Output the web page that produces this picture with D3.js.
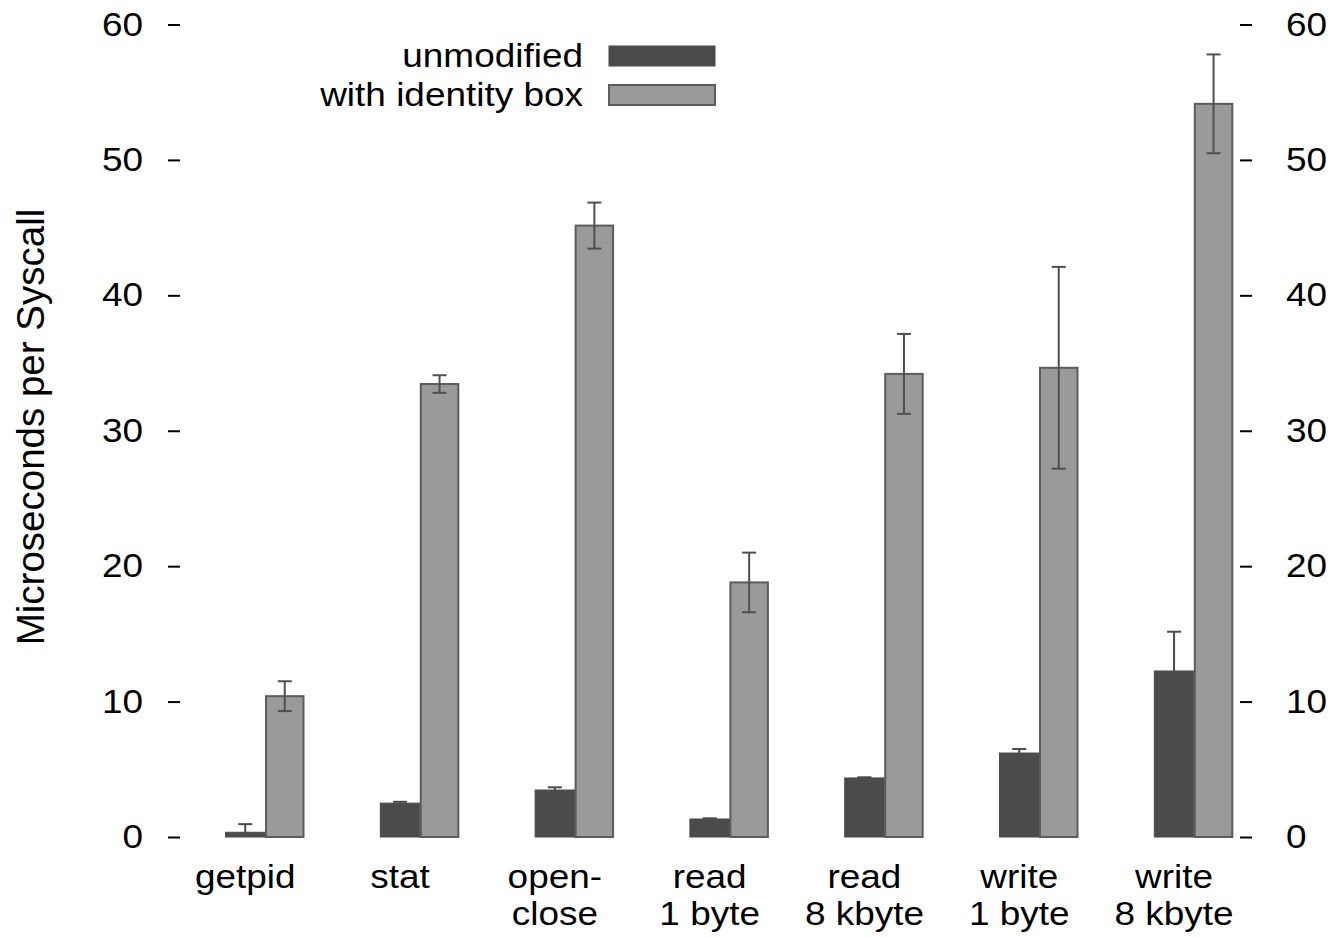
<!DOCTYPE html>
<html>
<head>
<meta charset="utf-8">
<script src="https://cdn.jsdelivr.net/npm/d3@7"></script>
<style>
  html, body { margin: 0; padding: 0; background: #fff; }
  svg { display: block; }
  text { font-family: "Liberation Sans", Arial, Helvetica, sans-serif; fill: #000; }
</style>
</head>
<body>
<svg id="chart" width="1336" height="937"></svg>
<script>
// ---- data ----
const categories = ["getpid", "stat", "open-close", "read 1 byte", "read 8 kbyte", "write 1 byte", "write 8 kbyte"];
const categoryLines = [["getpid"], ["stat"], ["open-", "close"], ["read", "1 byte"], ["read", "8 kbyte"], ["write", "1 byte"], ["write", "8 kbyte"]];
const seriesNames = ["unmodified", "with identity box"];
const unmodified = [0.35, 2.5, 3.47, 1.33, 4.36, 6.2, 12.26];
const unmodifiedErr = [0.6, 0.1, 0.2, 0.05, 0.05, 0.3, 2.9];
const identityBox = [10.4, 33.45, 45.15, 18.8, 34.2, 34.65, 54.14];
const identityBoxErr = [1.1, 0.65, 1.7, 2.2, 2.95, 7.45, 3.65];
const yTicks = [0, 10, 20, 30, 40, 50, 60];
const yLabel = "Microseconds per Syscall";

// ---- layout ----
const svg = d3.select("#chart");
const FS = 33, SX = 1.12;
const colors = { "unmodified": "#4b4b4b", "with identity box": "#9a9a9a" };
const strokes = { "unmodified": "#4b4b4b", "with identity box": "#5c5c5c" };
const errColors = { "unmodified": "#4b4b4b", "with identity box": "#4f4f4f" };

const y = d3.scaleLinear().domain([0, 60]).range([837, 24.5]);
const x0 = d3.scaleBand().domain(categories).range([187.6, 1271.2]).paddingInner(0).paddingOuter(0);
const half = 39.5;
const x1 = d3.scaleBand().domain(seriesNames)
  .range([x0.bandwidth() / 2 - half, x0.bandwidth() / 2 + half]).padding(0);

const rows = categories.map((c, i) => ({
  cat: c,
  vals: [
    { s: seriesNames[0], v: unmodified[i], e: unmodifiedErr[i] },
    { s: seriesNames[1], v: identityBox[i], e: identityBoxErr[i] }
  ]
}));

// ---- bars ----
const groups = svg.append("g").selectAll("g").data(rows).join("g")
  .attr("transform", d => `translate(${x0(d.cat)},0)`);

groups.selectAll("rect").data(d => d.vals).join("rect")
  .attr("x", d => x1(d.s) + (d.s === seriesNames[1] ? 1 : 0))
  .attr("y", d => y(d.v))
  .attr("width", d => x1.bandwidth() - (d.s === seriesNames[1] ? 2 : 0))
  .attr("height", d => y(0) - y(d.v))
  .attr("fill", d => colors[d.s])
  .attr("stroke", d => strokes[d.s])
  .attr("stroke-width", d => d.s === seriesNames[1] ? 2 : 1);

// ---- error bars ----
const eb = groups.selectAll("g.err").data(d => d.vals).join("g").attr("class", "err")
  .attr("stroke", d => errColors[d.s]).attr("stroke-width", 2);
const capW = 7;
eb.append("line")
  .attr("x1", d => x1(d.s) + x1.bandwidth() / 2).attr("x2", d => x1(d.s) + x1.bandwidth() / 2)
  .attr("y1", d => y(Math.max(0, d.v - d.e))).attr("y2", d => y(d.v + d.e));
eb.append("line")
  .attr("x1", d => x1(d.s) + x1.bandwidth() / 2 - capW).attr("x2", d => x1(d.s) + x1.bandwidth() / 2 + capW)
  .attr("y1", d => y(d.v + d.e)).attr("y2", d => y(d.v + d.e));
eb.filter(d => d.v - d.e > 0).append("line")
  .attr("x1", d => x1(d.s) + x1.bandwidth() / 2 - capW).attr("x2", d => x1(d.s) + x1.bandwidth() / 2 + capW)
  .attr("y1", d => y(d.v - d.e)).attr("y2", d => y(d.v - d.e));

// ---- axes ----
const leftAxis = svg.append("g").attr("transform", "translate(180,0)")
  .call(d3.axisLeft(y).tickValues(yTicks).tickSize(12).tickFormat(d3.format("d")));
leftAxis.select(".domain").remove();
leftAxis.selectAll("line").attr("stroke", "#000").attr("stroke-width", 2);
leftAxis.selectAll("text").attr("x", 0)
  .attr("transform", `translate(-37,0) scale(${SX},1)`)
  .style("font-size", FS + "px").style("font-family", "'Liberation Sans', Arial, sans-serif").attr("fill", "#000");

const rightAxis = svg.append("g").attr("transform", "translate(1240,0)")
  .call(d3.axisRight(y).tickValues(yTicks).tickSize(12).tickFormat(d3.format("d")));
rightAxis.select(".domain").remove();
rightAxis.selectAll("line").attr("stroke", "#000").attr("stroke-width", 2);
rightAxis.selectAll("text").attr("x", 0)
  .attr("transform", `translate(46,0) scale(${SX},1)`)
  .style("font-size", FS + "px").style("font-family", "'Liberation Sans', Arial, sans-serif").attr("fill", "#000");

// ---- category labels (centred under the first bar of each group) ----
const catLabels = svg.append("g").selectAll("g").data(categories).join("g")
  .attr("transform", (d) => `translate(${x0(d) + x1(seriesNames[0]) + x1.bandwidth() / 2},0)`);
catLabels.each(function (d, i) {
  const g = d3.select(this);
  categoryLines[i].forEach((line, j) => {
    g.append("text")
      .attr("transform", `translate(0,${888 + j * 37}) scale(${SX},1)`)
      .attr("text-anchor", "middle")
      .style("font-size", FS + "px")
      .text(line);
  });
});

// ---- y label ----
svg.append("text")
  .attr("transform", "translate(44,427) rotate(-90)")
  .attr("text-anchor", "middle")
  .style("font-size", "38.5px")
  .text(yLabel);

// ---- legend ----
const legend = svg.append("g");
const legRows = legend.selectAll("g").data(seriesNames).join("g")
  .attr("transform", (d, i) => `translate(0,${i * 39})`);
legRows.append("text")
  .attr("transform", `translate(583,67) scale(${SX},1)`)
  .attr("text-anchor", "end")
  .style("font-size", FS + "px")
  .text(d => d);
legRows.append("rect")
  .attr("x", 609).attr("y", 46).attr("width", 106).attr("height", 20)
  .attr("fill", d => colors[d])
  .attr("stroke", d => strokes[d])
  .attr("stroke-width", d => d === seriesNames[1] ? 2 : 1);
</script>
</body>
</html>
